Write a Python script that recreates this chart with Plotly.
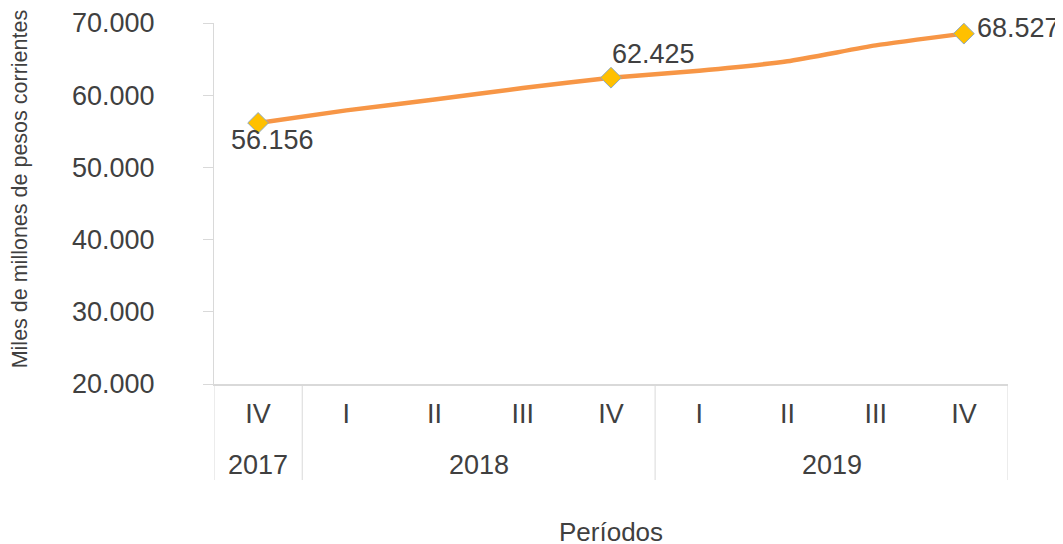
import plotly.graph_objects as go

years = ["2017", "2018", "2018", "2018", "2018", "2019", "2019", "2019", "2019"]
quarters = ["IV", "I", "II", "III", "IV", "I", "II", "III", "IV"]
values = [56156, 57900, 59400, 61000, 62425, 63400, 64700, 66900, 68527]
labeled_idx = [0, 4, 8]
y_ticks = [20000, 30000, 40000, 50000, 60000, 70000]

FONT = "Liberation Sans, Arial, sans-serif"
TXT = "#404040"
GRID = "#D9D9D9"

def fmt(v):
    return f"{v:,}".replace(",", ".")

idx = list(range(len(values)))

fig = go.Figure()
fig.add_trace(go.Scatter(
    x=idx, y=values, mode="lines",
    line=dict(color="#F79646", width=4.5, shape="spline", smoothing=0.5),
    hoverinfo="skip", showlegend=False,
))
fig.add_trace(go.Scatter(
    x=labeled_idx, y=[values[i] for i in labeled_idx], mode="markers",
    marker=dict(symbol="diamond", size=16, color="#FFC000",
                line=dict(color="#8EA9C1", width=1)),
    hoverinfo="skip", showlegend=False,
))

# data labels: (xanchor, yanchor, xshift, yshift)
label_pos = {0: ("center", "middle", 14, -17), 4: ("center", "middle", 42, 24), 8: ("left", "middle", 11, 6)}
for i in labeled_idx:
    xa, ya, xs, ys = label_pos[i]
    fig.add_annotation(x=i, y=values[i], xref="x", yref="y", text=fmt(values[i]),
                       showarrow=False, xanchor=xa, yanchor=ya, xshift=xs, yshift=ys,
                       font=dict(family=FONT, size=27, color=TXT))

# year groups: labels and dividers
groups = []
for i, yv in enumerate(years):
    if not groups or groups[-1][0] != yv:
        groups.append([yv, i, i])
    else:
        groups[-1][2] = i
bottom = -0.266
for yv, a, b in groups:
    fig.add_annotation(x=(a + b) / 2, y=-0.224, xref="x", yref="paper", text=yv,
                       showarrow=False, xanchor="center", yanchor="middle",
                       font=dict(family=FONT, size=27, color=TXT))
bounds = sorted({g[1] - 0.5 for g in groups} | {g[2] + 0.5 for g in groups})
for bx in bounds:
    fig.add_shape(type="line", x0=bx, x1=bx, y0=0, y1=bottom, xref="x", yref="paper",
                  line=dict(color=GRID, width=1))

fig.add_annotation(x=0.5, y=-0.41, xref="paper", yref="paper", text="Períodos",
                   showarrow=False, xanchor="center", yanchor="middle",
                   font=dict(family=FONT, size=26, color=TXT))
fig.add_annotation(x=-0.244, y=0.54, xref="paper", yref="paper",
                   text="Miles de millones de pesos corrientes", textangle=-90,
                   showarrow=False, xanchor="center", yanchor="middle",
                   font=dict(family=FONT, size=21.5, color=TXT))

# page body has an 8px default margin, so the figure is sized to fit the window
fig.update_layout(
    width=1055, height=536,
    margin=dict(l=206, r=55, t=15, b=160, autoexpand=False),
    paper_bgcolor="white", plot_bgcolor="white",
    separators=",.",
    font=dict(family=FONT, size=27, color=TXT),
    xaxis=dict(range=[-0.5, 8.5], tickvals=idx, ticktext=quarters, showgrid=False,
               zeroline=False, showline=True, linecolor=GRID, linewidth=2,
               ticks="", automargin=False,
               tickfont=dict(family=FONT, size=27, color=TXT), ticklabelstandoff=5),
    yaxis=dict(range=[20000, 70000], tickvals=y_ticks, tickformat=",.0f",
               showgrid=False, zeroline=False, showline=True, linecolor=GRID,
               linewidth=1, ticks="outside", ticklen=10, tickcolor=GRID, automargin=False,
               tickfont=dict(family=FONT, size=27, color=TXT), ticklabelstandoff=43),
)

fig.write_html("out.html")
